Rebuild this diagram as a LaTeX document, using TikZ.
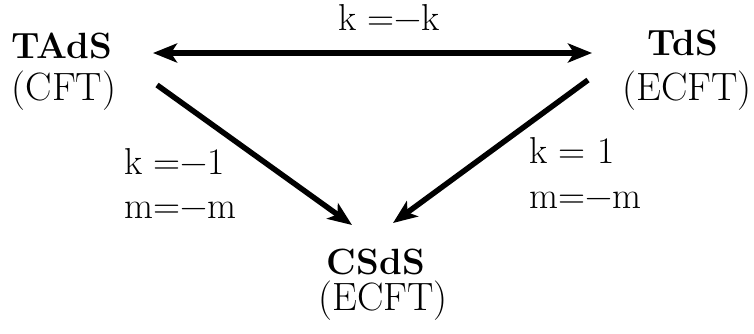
\documentclass[tikz,border=0pt]{standalone}
\usepackage{fontspec}
\usetikzlibrary{arrows.meta}
\begin{document}
\begin{tikzpicture}[x=1pt,y=-1pt,
  big/.style={font=\fontsize{36.5}{40}\selectfont\bfseries, inner sep=0pt, anchor=base},
  sub/.style={font=\fontsize{39.5}{44}\selectfont, inner sep=0pt, anchor=base},
  lab/.style={font=\fontsize{37.5}{44}\selectfont, inner sep=0pt, anchor=base west},
  tip/.style={Stealth[length=24pt,width=19pt,inset=6pt]},
  conn/.style={line width=5.5pt, -{Stealth[length=24pt,width=19pt,inset=6pt]}},
  conn2/.style={line width=5.5pt, {Stealth[length=24pt,width=19pt,inset=6pt]}-{Stealth[length=24pt,width=19pt,inset=6pt]}}]
\useasboundingbox (0,0) rectangle (754,333);
% nodes
\node[big] (tads) at (62,58) {TAdS};
\node[sub] (tadsc) at (64,100) {(CFT)};
\node[big] (tds) at (683,55) {TdS};
\node[sub] (tdsc) at (687,100) {(ECFT)};
\node[big] (csds) at (376,274) {CSdS};
\node[sub] (csdsc) at (383,310) {(ECFT)};
% labels
\node[lab] (ltop) at (338,30) {k =−k};
\node[lab] (lleft1) at (124,174) {k =−1};
\node[lab] (lleft2) at (124,218) {m=−m};
\node[lab] (lright1) at (529,163) {k = 1};
\node[lab] (lright2) at (529,208) {m=−m};
% connector end points
\coordinate (tl) at (153,53);
\coordinate (tr) at (592,53);
\coordinate (ls) at (157,85);
\coordinate (le) at (352,225);
\coordinate (rs) at (588,80);
\coordinate (re) at (393,223);
\draw[conn2] (tl) -- (tr);
\draw[conn] (ls) -- (le);
\draw[conn] (rs) -- (re);
\end{tikzpicture}
\end{document}
